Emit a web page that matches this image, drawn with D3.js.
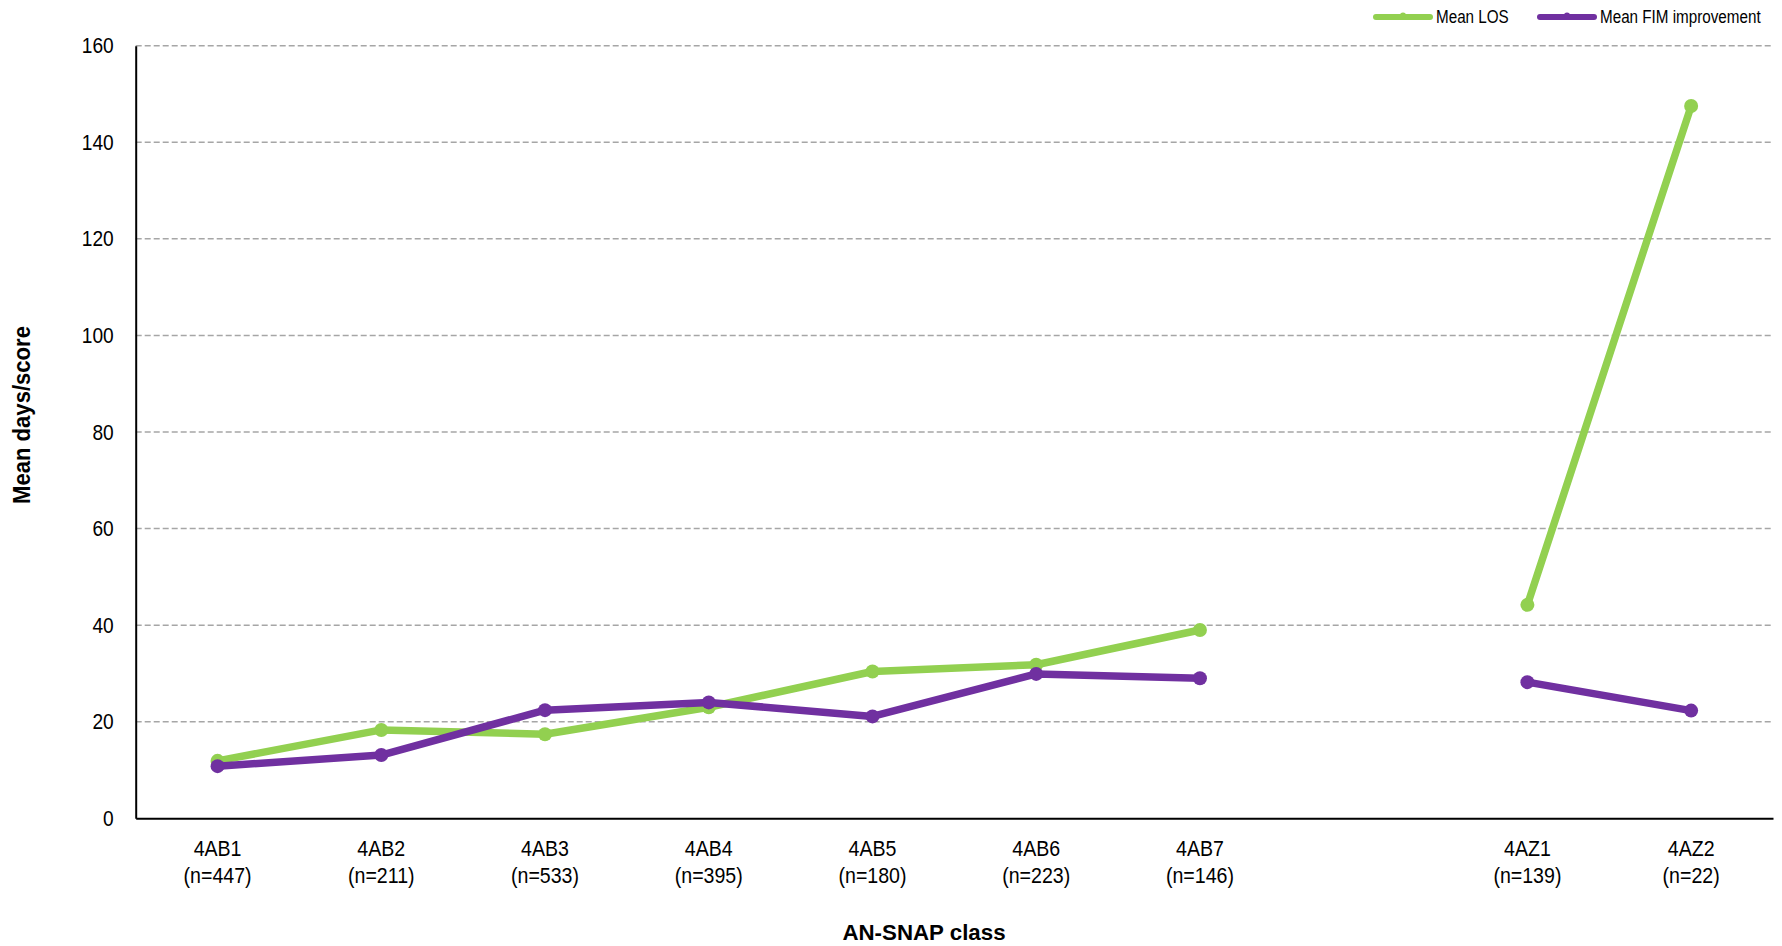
<!DOCTYPE html>
<html><head><meta charset="utf-8">
<script src="https://cdn.jsdelivr.net/npm/d3@7"></script>
<style>
body{margin:0;background:#fff;}
text{font-family:"Liberation Sans Narrow","Arial Narrow","Liberation Sans",Arial,sans-serif;fill:#000;}
</style></head>
<body>
<svg id="chart" width="1782" height="946"></svg>
<script>
const categories = ["4AB1","4AB2","4AB3","4AB4","4AB5","4AB6","4AB7","","4AZ1","4AZ2"];
const counts = ["(n=447)","(n=211)","(n=533)","(n=395)","(n=180)","(n=223)","(n=146)","","(n=139)","(n=22)"];
const meanLOS = [11.9, 18.3, 17.4, 23.0, 30.4, 31.8, 39.0, null, 44.2, 147.5];
const meanFIM = [10.8, 13.1, 22.4, 24.0, 21.1, 29.9, 29.0, null, 28.2, 22.3];
const yTicks = [0,20,40,60,80,100,120,140,160];
const seriesNames = ["Mean LOS","Mean FIM improvement"];
const colors = ["#92D050","#7030A0"];

const sx = 0.87; // horizontal condensing to mimic narrow font
const svg = d3.select("#chart");
const mLeft = 135.7, mRight = 1773, mTop = 45.7, mBottom = 818.3;

const x = d3.scaleBand().domain(d3.range(categories.length)).range([mLeft, mRight]).padding(0);
const y = d3.scaleLinear().domain([0,160]).range([mBottom, mTop]);

// gridlines
svg.append("g").selectAll("line").data(yTicks.filter(d=>d>0)).join("line")
  .attr("x1", mLeft).attr("x2", mRight)
  .attr("y1", d=>y(d)).attr("y2", d=>y(d))
  .attr("stroke","#A6A6A6").attr("stroke-width",1.5).attr("stroke-dasharray","6,3");

// y axis
const yAxis = d3.axisLeft(y).tickValues(yTicks).tickSize(0).tickPadding(22);
const gy = svg.append("g").attr("transform",`translate(${mLeft},0)`).call(yAxis);
gy.attr("font-family",null).attr("font-size",null);
gy.select(".domain").attr("stroke","#000").attr("stroke-width",2);
gy.selectAll("text").attr("font-size",22).attr("x",-22/sx).attr("transform",`scale(${sx},1)`);

// x axis
const gx = svg.append("g").attr("transform",`translate(0,${mBottom})`)
  .call(d3.axisBottom(x).tickSize(0).tickFormat(()=>""));
gx.attr("font-family",null).attr("font-size",null);
gx.select(".domain").attr("stroke","#000").attr("stroke-width",2);
gx.selectAll(".tick").each(function(d){
  const t = d3.select(this).append("text").attr("text-anchor","middle").attr("font-size",22.5)
    .attr("transform",`scale(${sx},1)`);
  t.append("tspan").attr("x",0).attr("y",38).text(categories[d]);
  t.append("tspan").attr("x",0).attr("y",65).text(counts[d]);
});

// titles
svg.append("text").attr("x",924).attr("y",940).attr("text-anchor","middle")
  .attr("font-weight","bold").attr("font-size",23).attr("transform","translate(924,0) scale(0.97,1) translate(-924,0)")
  .text("AN-SNAP class");
svg.append("text").attr("transform","translate(30,415) rotate(-90) scale(0.96,1)").attr("text-anchor","middle")
  .attr("font-weight","bold").attr("font-size",23).text("Mean days/score");

// lines
const series = [meanLOS, meanFIM];
const line = d3.line().defined(d=>d.v!=null).x(d=>x(d.i)+x.bandwidth()/2).y(d=>y(d.v));
series.forEach((vals, si) => {
  const pts = vals.map((v,i)=>({i,v}));
  const g = svg.append("g");
  g.append("path").datum(pts).attr("d",line).attr("fill","none")
    .attr("stroke",colors[si]).attr("stroke-width",7.5).attr("stroke-linejoin","round");
  g.selectAll("circle").data(pts.filter(d=>d.v!=null)).join("circle")
    .attr("cx",d=>x(d.i)+x.bandwidth()/2).attr("cy",d=>y(d.v)).attr("r",7)
    .attr("fill",colors[si]);
});

// legend
const legX = [1376, 1540];
seriesNames.forEach((n,i)=>{
  const g = svg.append("g").attr("transform",`translate(${legX[i]},0)`);
  g.append("line").attr("x1",0).attr("x2",54).attr("y1",17).attr("y2",17)
    .attr("stroke",colors[i]).attr("stroke-width",6).attr("stroke-linecap","round");
  g.append("circle").attr("cx",27).attr("cy",15.5).attr("r",3).attr("fill",colors[i]);
  g.append("text").attr("transform",`translate(60,23) scale(${sx},1)`).attr("font-size",17.5).text(n);
});
</script>
</body></html>
